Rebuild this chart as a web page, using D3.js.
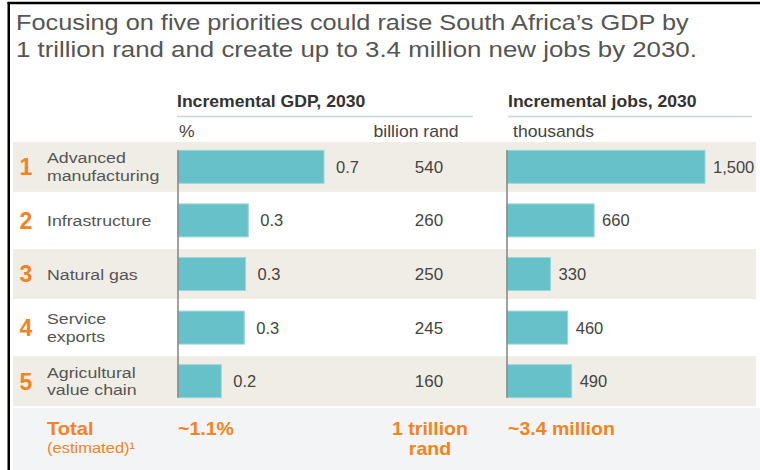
<!DOCTYPE html>
<html><head><meta charset="utf-8">
<script src="https://cdnjs.cloudflare.com/ajax/libs/d3/7.8.5/d3.min.js"></script>
<style>
body{margin:0;background:#fff}
svg{display:block}
text{font-family:"Liberation Sans",Arial,Helvetica,sans-serif}
</style>
</head><body>
<svg id="chart" width="760" height="470"></svg>
<script>
// ---- data ----
const titleLines = ["Focusing on five priorities could raise South Africa\u2019s GDP by",
                    "1 trillion rand and create up to 3.4 million new jobs by 2030."];
const ranks = ["1","2","3","4","5"];
const categories = [["Advanced","manufacturing"],["Infrastructure"],["Natural gas"],["Service","exports"],["Agricultural","value chain"]];
const gdpPctLabels = ["0.7","0.3","0.3","0.3","0.2"];
const gdpBillionRand = [540,260,250,245,160];
const jobsThousands = [1500,660,330,460,490];
const groupHeaders = ["Incremental GDP, 2030","Incremental jobs, 2030"];
const unitLabels = ["%","billion rand","thousands"];
const totalLabels = ["Total","(estimated)\u00b9"];
const totalValues = ["~1.1%",["1 trillion","rand"],"~3.4 million"];

// ---- styles ----
const C = {orange:"#f68220", teal:"#66c1c9", tealEdge:"#9bd6db", beige:"#f0ede6", totalBg:"#f3f4f6",
           text:"#444", cat:"#555", title:"#555", head:"#333", rule:"#c8d5e2", axis:"#8a8a8a"};

const svg = d3.select("#chart");
svg.append("rect").attr("width",760).attr("height",470).attr("fill","#fff");

function txt(g, x, y, s, o) {
  o = o || {};
  return g.append("text")
    .attr("transform", `translate(${x},${y}) scale(${o.sx||1},1)`)
    .attr("text-anchor", o.anchor||"start")
    .attr("font-size", o.size||16)
    .attr("font-weight", o.weight||"normal")
    .attr("fill", o.fill||C.text)
    .text(s);
}

// scales
const y = d3.scaleBand().domain(ranks).range([140, 408]).padding(0);
const barH = 33;
const xGdp = d3.scaleLinear().domain([0, 540]).range([178, 324]);
const xJobs = d3.scaleLinear().domain([0, 1500]).range([507, 705]);
const rowC = r => y(r) + y.bandwidth()/2;

// row backgrounds
svg.selectAll("rect.band").data(ranks.filter((d,i)=>i%2===0)).join("rect")
  .attr("class","band").attr("x",13).attr("width",743)
  .attr("y", d => rowC(d) - 25).attr("height",50).attr("fill",C.beige);

// total band
svg.append("rect").attr("x",13).attr("y",408).attr("width",747).attr("height",62).attr("fill",C.totalBg);

// title
txt(svg, 16, 30, titleLines[0], {size:22.3, sx:1.135, fill:C.title});
txt(svg, 16, 57, titleLines[1], {size:22.3, sx:1.16, fill:C.title});

// group headers
txt(svg, 177, 107, groupHeaders[0], {size:16, weight:"bold", sx:1.1, fill:C.head});
txt(svg, 508, 107, groupHeaders[1], {size:16, weight:"bold", sx:1.1, fill:C.head});
svg.append("line").attr("x1",177).attr("x2",473).attr("y1",116.5).attr("y2",116.5).attr("stroke",C.rule).attr("stroke-width",1.5);
svg.append("line").attr("x1",508).attr("x2",752).attr("y1",116.5).attr("y2",116.5).attr("stroke",C.rule).attr("stroke-width",1.5);

// unit labels
txt(svg, 179, 137, unitLabels[0], {size:16, sx:1.1});
txt(svg, 416, 137, unitLabels[1], {size:16, sx:1.1, anchor:"middle"});
txt(svg, 513, 137, unitLabels[2], {size:16, sx:1.1});

// ranks and categories
ranks.forEach((r,i)=>{
  const c = rowC(r);
  txt(svg, 19.5, c + 8.3, r, {size:23, weight:"bold", fill:C.orange});
  const lines = categories[i];
  if (lines.length === 1) txt(svg, 47, c + 6, lines[0], {size:15.3, sx:1.16, fill:C.cat});
  else lines.forEach((l,j)=> txt(svg, 47, c - 3.5 + j*17.5, l, {size:15.3, sx:1.16, fill:C.cat}));
});

// GDP bars
svg.selectAll("rect.gdp").data(gdpBillionRand).join("rect").attr("class","gdp")
  .attr("x", xGdp(0)).attr("y",(d,i)=> rowC(ranks[i]) - barH/2)
  .attr("width", d => xGdp(d) - xGdp(0)).attr("height", barH)
  .attr("fill", C.teal).attr("stroke", C.tealEdge).attr("stroke-width",1);
gdpBillionRand.forEach((d,i)=>{
  txt(svg, xGdp(d) + 12, rowC(ranks[i]) + 6, gdpPctLabels[i], {size:16.5});
  txt(svg, 429, rowC(ranks[i]) + 6, d3.format(",")(d), {size:16.5, anchor:"middle", sx:1.03});
});
// Jobs bars
svg.selectAll("rect.jobs").data(jobsThousands).join("rect").attr("class","jobs")
  .attr("x", xJobs(0)).attr("y",(d,i)=> rowC(ranks[i]) - barH/2)
  .attr("width", d => xJobs(d) - xJobs(0)).attr("height", barH)
  .attr("fill", C.teal).attr("stroke", C.tealEdge).attr("stroke-width",1);
jobsThousands.forEach((d,i)=>{
  txt(svg, xJobs(d) + 8, rowC(ranks[i]) + 6, d3.format(",")(d), {size:16.5});
});

// axis lines
const yTop = rowC(ranks[0]) - barH/2, yBot = rowC(ranks[4]) + barH/2;
[xGdp(0), xJobs(0)].forEach(x=> svg.append("line").attr("x1",x).attr("x2",x).attr("y1",yTop).attr("y2",yBot)
  .attr("stroke",C.axis).attr("stroke-width",1.6));

// totals
txt(svg, 47, 435, totalLabels[0], {size:18.6, weight:"bold", sx:1.08, fill:C.orange});
txt(svg, 47, 453, totalLabels[1], {size:15.3, sx:1.08, fill:C.orange});
txt(svg, 178, 435, totalValues[0], {size:18.6, weight:"bold", sx:1.05, fill:C.orange});
txt(svg, 430, 435, totalValues[1][0], {size:18.6, weight:"bold", sx:1.05, fill:C.orange, anchor:"middle"});
txt(svg, 430, 455, totalValues[1][1], {size:18.6, weight:"bold", sx:1.05, fill:C.orange, anchor:"middle"});
txt(svg, 508, 435, totalValues[2], {size:18.6, weight:"bold", sx:1.05, fill:C.orange});

// frame
svg.append("line").attr("x1",7.5).attr("x2",760).attr("y1",3).attr("y2",3).attr("stroke","#000").attr("stroke-width",2.5);
svg.append("line").attr("x1",8.75).attr("x2",8.75).attr("y1",2).attr("y2",470).attr("stroke","#000").attr("stroke-width",2.5);
</script>
</body></html>
